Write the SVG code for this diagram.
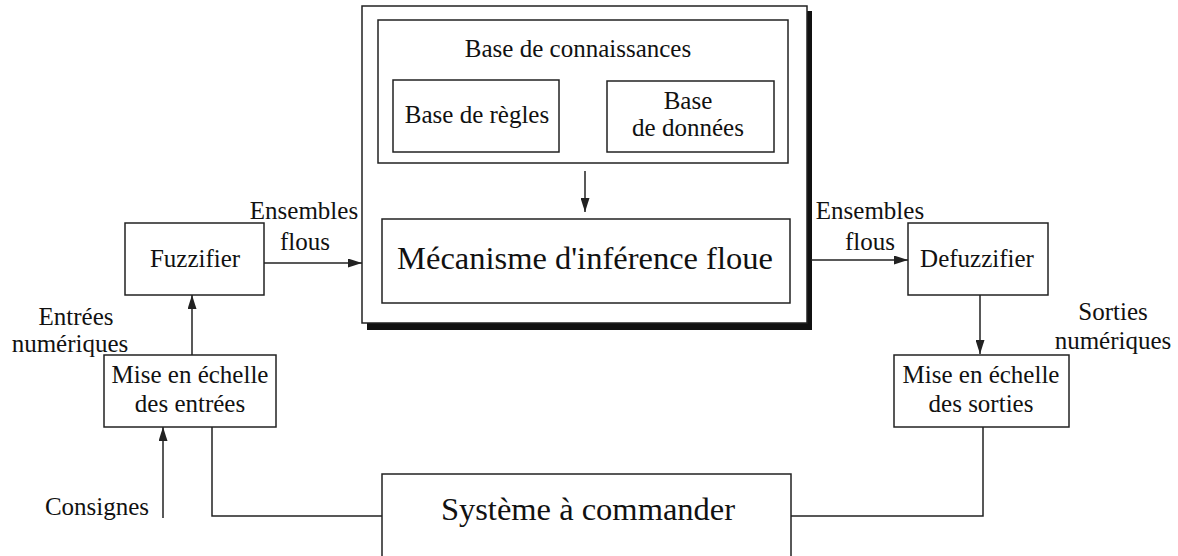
<svg xmlns="http://www.w3.org/2000/svg" width="1178" height="556" viewBox="0 0 1178 556" font-family="Liberation Serif, Times New Roman, Times, serif">
<style>
.box{fill:#fff;stroke:#222;stroke-width:1.5}
.ln{fill:none;stroke:#222;stroke-width:1.5}
text{fill:#111;text-anchor:middle;font-size:25px}
.big{font-size:32.5px}
</style>
<defs>
<marker id="ah" viewBox="0 0 14 9" refX="14" refY="4.5" markerWidth="14" markerHeight="9" markerUnits="userSpaceOnUse" orient="auto">
<path d="M0,0 L14,4.5 L0,9 Z" fill="#222"/>
</marker>
</defs>
<rect width="1178" height="556" fill="#fff"/>
<g id="inference-system">
<rect x="367" y="11" width="445" height="319" fill="#111"/>
<rect class="box" x="362" y="6" width="445" height="317"/>
</g>
<g id="base-connaissances">
<rect class="box" x="378" y="20" width="410" height="143"/>
<text x="578" y="57">Base de connaissances</text>
</g>
<g id="base-regles">
<rect class="box" x="393" y="80" width="166" height="72"/>
<text x="477" y="123">Base de règles</text>
</g>
<g id="base-donnees">
<rect class="box" x="607" y="81" width="167" height="71"/>
<text x="688" y="109">Base</text>
<text x="688" y="136">de données</text>
</g>
<g id="mecanisme">
<rect class="box" x="382" y="219" width="408" height="84"/>
<text class="big" x="585" y="269">Mécanisme d'inférence floue</text>
</g>
<g id="fuzzifier">
<rect class="box" x="125" y="223" width="139" height="72"/>
<text x="195" y="267">Fuzzifier</text>
</g>
<g id="defuzzifier">
<rect class="box" x="908" y="223" width="140" height="72"/>
<text x="977" y="267">Defuzzifier</text>
</g>
<g id="mise-entrees">
<rect class="box" x="104" y="355" width="172" height="72"/>
<text x="190" y="383">Mise en échelle</text>
<text x="190" y="412">des entrées</text>
</g>
<g id="mise-sorties">
<rect class="box" x="894" y="355" width="175" height="72"/>
<text x="981" y="383">Mise en échelle</text>
<text x="981" y="412">des sorties</text>
</g>
<g id="systeme">
<rect class="box" x="382" y="474" width="409" height="90"/>
<text class="big" x="588" y="520">Système à commander</text>
</g>
<g id="connectors">
<line class="ln" x1="585" y1="171" x2="585" y2="212" marker-end="url(#ah)"/>
<line class="ln" x1="264" y1="263" x2="362" y2="263" marker-end="url(#ah)"/>
<line class="ln" x1="811" y1="260" x2="908" y2="260" marker-end="url(#ah)"/>
<line class="ln" x1="980" y1="295" x2="980" y2="354" marker-end="url(#ah)"/>
<line class="ln" x1="192" y1="355" x2="192" y2="295" marker-end="url(#ah)"/>
<line class="ln" x1="163" y1="518" x2="163" y2="427" marker-end="url(#ah)"/>
<polyline class="ln" points="212,427 212,516 382,516"/>
<polyline class="ln" points="791,516 983,516 983,427"/>
</g>
<g id="labels">
<text x="304" y="219">Ensembles</text>
<text x="305" y="250">flous</text>
<text x="870" y="219">Ensembles</text>
<text x="870" y="250">flous</text>
<text x="76" y="325">Entrées</text>
<text x="70" y="352">numériques</text>
<text x="1113" y="320">Sorties</text>
<text x="1113" y="349">numériques</text>
<text x="97" y="515">Consignes</text>
</g>
</svg>
